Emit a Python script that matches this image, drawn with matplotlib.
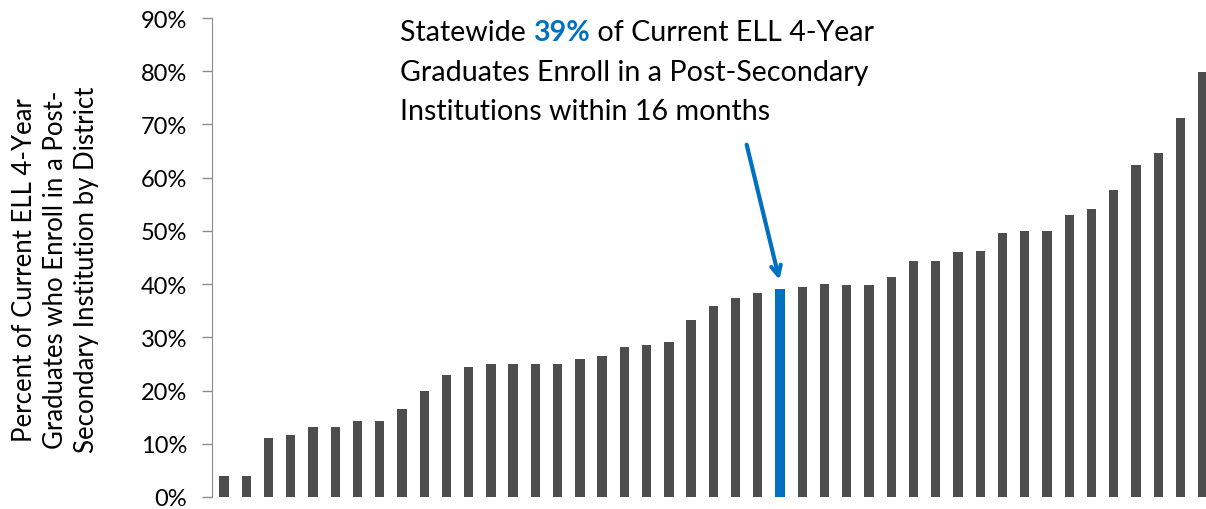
import numpy as np
import matplotlib
matplotlib.use("Agg")
import matplotlib.pyplot as plt
from matplotlib.ticker import PercentFormatter

plt.rcParams['font.family'] = ['Lato', 'DejaVu Sans']

# District enrollment rates (%), sorted ascending; index 25 is the statewide bar
rates = [3.9, 3.9, 11.0, 11.7, 13.2, 13.2, 14.2, 14.2, 16.6, 19.9,
         22.9, 24.4, 24.9, 24.9, 24.9, 24.9, 25.9, 26.4, 28.2, 28.5,
         29.1, 33.3, 35.9, 37.4, 38.3, 39.1, 39.5, 40.0, 39.9, 39.9,
         41.3, 44.4, 44.4, 46.0, 46.3, 49.6, 49.9, 49.9, 52.9, 54.1,
         57.6, 62.4, 64.6, 71.3, 79.9]
statewide_idx = 25
statewide_label = "39%"

GRAY = '#4D4D4D'
BLUE = '#0070C0'

fig = plt.figure(figsize=(12.06, 5.10), dpi=100)
ax = fig.add_axes([212 / 1206, 12 / 510, 1 - 212 / 1206, 479 / 510])

x = np.arange(len(rates))
colors = [BLUE if i == statewide_idx else GRAY for i in x]
ax.bar(x, np.array(rates) / 100, width=0.42, color=colors)

ax.set_xlim(-0.54, len(rates) - 0.85)
ax.set_ylim(0, 0.9)
ax.set_yticks(np.arange(0, 0.91, 0.1))
ax.yaxis.set_major_formatter(PercentFormatter(1.0, decimals=0))
ax.set_xticks([])

for s in ['top', 'right', 'bottom']:
    ax.spines[s].set_visible(False)
ax.spines['left'].set_color('#8C8C8C')
ax.tick_params(axis='y', colors='#8C8C8C', labelcolor='black', labelsize=17,
               length=7, width=1, pad=11)

# y label, placed by hand so its three lines sit like the original
fig.text(56 / 1206, 1 - 270 / 510,
         'Percent of Current ELL 4-Year\nGraduates who Enroll in a Post-\nSecondary Institution by District',
         rotation=90, ha='center', va='center', multialignment='center',
         fontsize=18.5, linespacing=1.3)

# Annotation text with highlighted statewide value
fs = 20.6
renderer = fig.canvas.get_renderer()
tx, ty = 400 / 1206, 1 - 33 / 510
t1 = fig.text(tx, ty, 'Statewide ', fontsize=fs, va='center')
w1 = t1.get_window_extent(renderer).width / 1206
t2 = fig.text(tx + w1, ty, statewide_label, fontsize=fs, va='center',
              color=BLUE, fontweight='bold')
w2 = t2.get_window_extent(renderer).width / 1206
fig.text(tx + w1 + w2, ty, ' of Current ELL 4-Year', fontsize=fs, va='center')
fig.text(tx, 1 - 73 / 510, 'Graduates Enroll in a Post-Secondary', fontsize=fs, va='center')
fig.text(tx, 1 - 112 / 510, 'Institutions within 16 months', fontsize=fs, va='center')

ax.annotate('', xy=(statewide_idx, rates[statewide_idx] / 100 + 0.012),
            xytext=(746 / 1206, 1 - 143 / 510), textcoords='figure fraction',
            arrowprops=dict(arrowstyle='->,head_length=0.7,head_width=0.35',
                            color=BLUE, lw=3))

fig.savefig('out.png', dpi=100)
